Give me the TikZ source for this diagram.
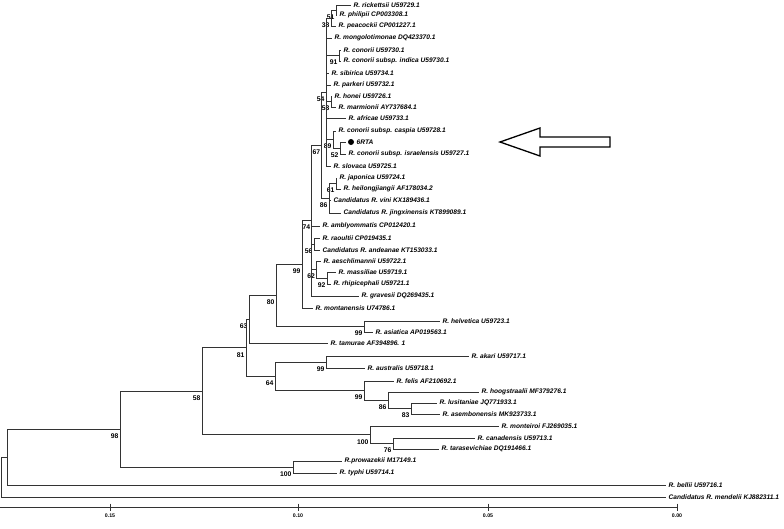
\documentclass[tikz,border=0pt]{standalone}
\usepackage{fontspec}
\setmainfont{Liberation Sans}
\usetikzlibrary{calc}
\begin{document}
\begin{tikzpicture}[x=1pt,y=-1pt,
  br/.style={line width=0.75pt, draw=black!80},
  leaf/.style={anchor=west, inner sep=0pt, font=\fontsize{6.6}{7}\selectfont\bfseries\itshape},
  bs/.style={anchor=east, inner sep=0pt, font=\fontsize{6.8}{7}\selectfont\bfseries},
  axlab/.style={anchor=north, inner sep=0pt, font=\fontsize{5.2}{6}\selectfont\bfseries},
  bigarrow/.style={line width=1.3pt, draw=black, fill=white, line join=miter}]
\useasboundingbox (0,0) rectangle (784,528);
% leaves: name / line end x / y / text
\foreach \n/\x/\y/\t in {
 rick/351/5/R. rickettsii U59729.1,
 phil/337/15/R. philipii CP003308.1,
 peac/336/26/R. peacockii CP001227.1,
 mong/332/38/R. mongolotimonae DQ423370.1,
 cono/341/50/R. conorii U59730.1,
 indi/341/61/R. conorii subsp. indica U59730.1,
 sibi/329/73/R. sibirica U59734.1,
 park/331/85/R. parkeri U59732.1,
 hone/332/96/R. honei U59726.1,
 marm/336/107/R. marmionii AY737684.1,
 afri/346/118/R. africae U59733.1,
 casp/336/131/R. conorii subsp. caspia U59728.1,
 isra/346/154/R. conorii subsp. israelensis U59727.1,
 slov/331/166/R. slovaca U59725.1,
 japo/337/178/R. japonica U59724.1,
 heil/341/189/R. heilongjiangii AF178034.2,
 vini/331/200/Candidatus R. vini KX189436.1,
 jing/341/213/Candidatus R. jingxinensis KT899089.1,
 ambl/320/226/R. amblyommatis CP012420.1,
 raou/320/238/R. raoultii CP019435.1,
 ande/320/250/Candidatus R. andeanae KT153033.1,
 aesc/321/261/R. aeschlimannii U59722.1,
 mass/336/272/R. massiliae U59719.1,
 rhip/331/284/R. rhipicephali U59721.1,
 grav/359/296/R. gravesii DQ269435.1,
 mont/313/308/R. montanensis U74786.1,
 helv/440/321/R. helvetica U59723.1,
 asia/373/332/R. asiatica AP019563.1,
 tamu/328/343/R. tamurae AF394896. 1,
 akar/469/356/R. akari U59717.1,
 aust/365/368/R. australis U59718.1,
 feli/394/381/R. felis AF210692.1,
 hoog/479/392/R. hoogstraalii MF379276.1,
 lusi/437/403/R. lusitaniae JQ771933.1,
 asem/440/414/R. asembonensis MK923733.1,
 monr/499/426/R. monteiroi FJ269035.1,
 cana/475/438/R. canadensis U59713.1,
 tara/439/449/R. tarasevichiae DQ191466.1,
 prow/342/461/R.prowazekii M17149.1,
 typh/337/473/R. typhi U59714.1,
 bell/666/485/R. bellii U59716.1,
 mend/666/497/Candidatus R. mendelii KJ882311.1}
{\coordinate (\n) at (\x,\y); \node[leaf] (\n-l) at (\x+2.5,\y) {\t};}
% 6RTA
\coordinate (rta) at (346,142);
\fill (351,142) circle (3) node[coordinate] (rta-dot) {};
\node[leaf] (rta-l) at (356.5,142) {6RTA};
% internal nodes: name / x / y / bootstrap
\foreach \n/\x/\y/\b in {
 N51/336/10/51, N38/331/18/38, N91/339/55.5/91, N53/331/101.5/53,
 N52/340/148/52, N89/333/139.5/89, NT/326/92/54, N61/336/183.5/61,
 N86/329/198.25/86, N67/321.7/145.1/67, N56/314/244/56, N92/327/278/92,
 N62/316.5/269.5/62, N74/311.7/220.6/74, N99/302/264.3/99, N99h/364/326.5/99,
 N80/276/295.4/80, N63/249/319.2/63, N99b/326/362/99, N83/411/408.5/83,
 N86b/388/400.25/86, N99c/364/390.6/99, N64/275/376.3/64, N81/246/347.8/81,
 N76/393/443.5/76, N100/370/434.75/100, N58/202/391.3/58, NP/293/467/100,
 N98/120/429.1/98}
{\coordinate (\n) at (\x,\y); \node[bs] (\n-b) at (\x-1.3,\y+7) {\b};}
\coordinate (NA) at (7,457);
\coordinate (root) at (1,477);
% branches
\foreach \p/\c in {
 root/NA, root/mend, NA/N98, NA/bell, N98/N58, N98/NP, NP/prow, NP/typh,
 N58/N81, N58/N100, N100/monr, N100/N76, N76/cana, N76/tara,
 N81/N63, N81/N64, N64/N99b, N64/N99c, N99b/akar, N99b/aust,
 N99c/feli, N99c/N86b, N86b/hoog, N86b/N83, N83/lusi, N83/asem,
 N63/N80, N63/tamu, N80/N99, N80/N99h, N99h/helv, N99h/asia,
 N99/N74, N99/mont, N74/N67, N74/ambl, N74/N56, N74/N62, N74/grav,
 N56/raou, N56/ande, N62/aesc, N62/N92, N92/mass, N92/rhip,
 N67/NT, N67/N86, N86/N61, N86/vini, N86/jing, N61/japo, N61/heil,
 NT/N38, NT/mong, NT/N91, NT/sibi, NT/park, NT/N53, NT/afri, NT/N89, NT/slov,
 N38/N51, N38/peac, N51/rick, N51/phil, N91/cono, N91/indi,
 N53/hone, N53/marm, N89/casp, N89/N52, N52/rta, N52/isra}
{\draw[br] (\p) |- (\c);}
% arrow
\draw[bigarrow] (500,142) -- (540,128) -- (540,137) -- (610,137) -- (610,147) -- (540,147) -- (540,156) -- cycle;
% scale axis
\coordinate (ax0) at (0,507);
\coordinate (ax1) at (677,507);
\draw[br] (ax0) -- (ax1);
\foreach \x/\l in {110/0.15, 298/0.10, 488/0.05, 677/0.00}
{\draw[br] (\x,503.5) -- (\x,510.5); \node[axlab] at (\x,514) {\l};}
\end{tikzpicture}
\end{document}
